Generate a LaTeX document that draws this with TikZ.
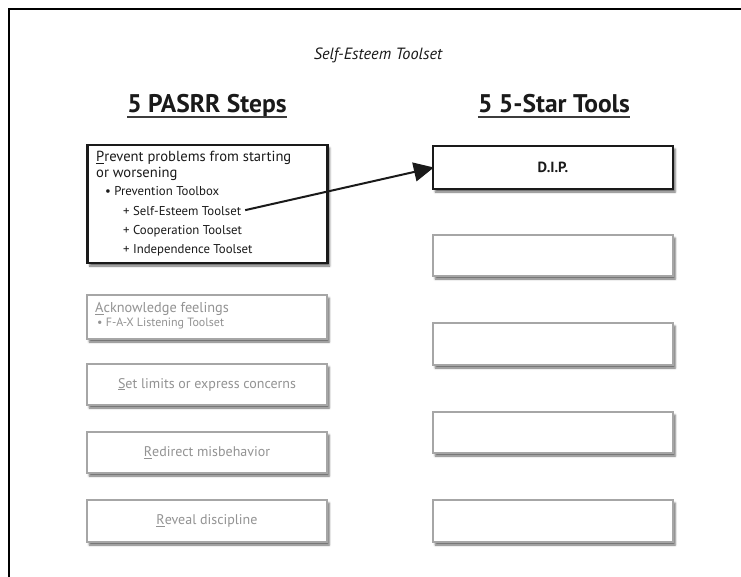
\documentclass[tikz,border=0pt]{standalone}
\usepackage{fontspec}
\setmainfont{PT Sans}
\usetikzlibrary{arrows.meta,shadows.blur}

\definecolor{softline}{HTML}{A6A6A6}
\definecolor{softtext}{HTML}{939393}
\definecolor{inkdark}{HTML}{1A1A1A}

\tikzset{
  boxshade/.style={blur shadow={shadow xshift=2.2pt, shadow yshift=-3pt,
      shadow blur steps=4, shadow blur extra rounding=0pt, shadow opacity=60}},
  strongbox/.style={draw=inkdark, line width=2.3pt, fill=white, boxshade,
      inner sep=0pt},
  softbox/.style={draw=softline, line width=1.2pt, fill=white, boxshade,
      inner sep=0pt, text=softtext, font=\fontsize{14}{16}\selectfont},
  colbox/.style={minimum width=240pt},
  mainline/.style={anchor=base west, inner sep=0pt, text=inkdark,
      font=\fontsize{14.6}{17}\selectfont},
  subline/.style={anchor=base west, inner sep=0pt, text=inkdark,
      font=\fontsize{12.8}{15}\selectfont},
  heading/.style={anchor=base, inner sep=0pt, text=inkdark,
      font=\fontsize{25.5}{29}\selectfont\bfseries},
  headrule/.style={line width=1.6pt, draw=inkdark!85},
  link/.style={line width=2pt, draw=inkdark,
      -{Triangle[length=20pt, width=19pt]}, shorten <=4pt}
}

\begin{document}
\begin{tikzpicture}[x=1pt, y=-1pt]
  \useasboundingbox (0,0) rectangle (741,577);

  % page frame, cut off on the right and at the bottom
  \draw[line width=2pt, line cap=rect] (9,577) -- (9,9) -- (741,9);

  % title and column headings
  \node[anchor=base, inner sep=0pt, text=inkdark,
        font=\fontsize{16.3}{19}\selectfont\itshape] (title) at (378,60) {Self-Esteem Toolset};

  \node[heading] (hsteps) at (207,113) {5 PASRR Steps};
  \node[heading] (htools) at (554,113) {5 5-Star Tools};
  \draw[headrule] ([yshift=-4pt]hsteps.base west) -- ([yshift=-4pt]hsteps.base east);
  \draw[headrule] ([yshift=-4pt]htools.base west) -- ([yshift=-4pt]htools.base east);

  % PASRR steps
  \node[strongbox, colbox, minimum height=118pt] (prevent) at (207.5,204) {};
  \node[mainline] (p1) at (96,162) {\underline{P}revent problems from starting};
  \node[mainline] (p2) at (96,178) {or worsening};
  \node[subline]  (p3) at (105,196) {• Prevention Toolbox};
  \node[subline]  (p4) at (123,215.5) {+ Self-Esteem Toolset};
  \node[subline]  (p5) at (123,234.5) {+ Cooperation Toolset};
  \node[subline]  (p6) at (123,253.5) {+ Independence Toolset};

  \node[softbox, colbox, minimum height=44pt] (ack) at (207,317) {};
  \node[mainline, text=softtext, font=\fontsize{14.3}{16}\selectfont] (a1) at (95,312.5) {\underline{A}cknowledge feelings};
  \node[subline, text=softtext, font=\fontsize{12}{14}\selectfont] (a2) at (97,326) {• F-A-X Listening Toolset};

  \node[softbox, colbox, minimum height=41pt] (limits) at (207,384.5) {\underline{S}et limits or express concerns};
  \node[softbox, colbox, minimum height=41pt] (redirect) at (207,452.5) {\underline{R}edirect misbehavior};
  \node[softbox, colbox, minimum height=42pt] (reveal) at (207,521) {\underline{R}eveal discipline};

  % 5-star tools
  \node[strongbox, colbox, minimum height=43pt, text=inkdark,
        font=\fontsize{14.7}{17}\selectfont\bfseries] (dip) at (553,167.5) {D.I.P.};
  \node[softbox, colbox, minimum height=41pt] (t2) at (553,255.5) {};
  \node[softbox, colbox, minimum height=42pt] (t3) at (553,344) {};
  \node[softbox, colbox, minimum height=41pt] (t4) at (553,432.5) {};
  \node[softbox, colbox, minimum height=42pt] (t5) at (553,521) {};

  % connector from the toolset to its tool
  \draw[link] (p4.east) -- ([xshift=2pt]dip.west);
\end{tikzpicture}
\end{document}
